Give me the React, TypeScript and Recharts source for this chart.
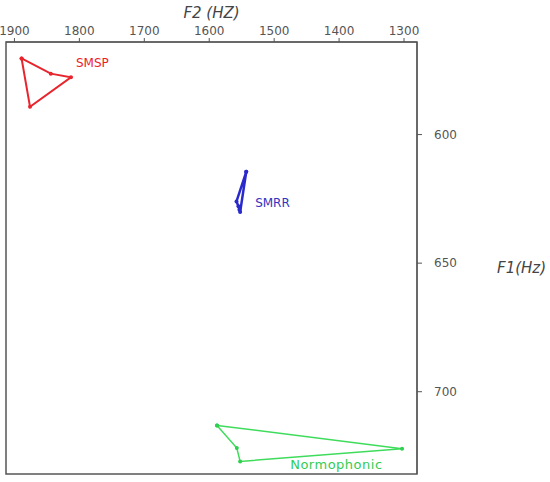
import {
	ScatterChart,
	Scatter,
	XAxis,
	YAxis,
	ReferenceArea,
	ReferenceDot,
} from "recharts"

// F2 (x) and F1 (y) in Hz, polygons closed by repeating the first point
const smsp = [
	{ f2: 1889, f1: 570.4 },
	{ f2: 1844, f1: 576.3 },
	{ f2: 1813, f1: 577.7 },
	{ f2: 1876, f1: 589.2 },
	{ f2: 1889, f1: 570.4 },
]

const smrr = [
	{ f2: 1543, f1: 614.5 },
	{ f2: 1558, f1: 626 },
	{ f2: 1555, f1: 627.9 },
	{ f2: 1553.5, f1: 629.2 },
	{ f2: 1552.4, f1: 630.1 },
	{ f2: 1543, f1: 614.5 },
]

const normophonic = [
	{ f2: 1588, f1: 713.1 },
	{ f2: 1557.5, f1: 721.9 },
	{ f2: 1552.4, f1: 727.1 },
	{ f2: 1303, f1: 722.2 },
	{ f2: 1588, f1: 713.1 },
]

const f2Ticks = [1300, 1400, 1500, 1600, 1700, 1800, 1900]
const f1Ticks = [600, 650, 700]
const f2Domain: [number, number] = [1280, 1913]
const f1Domain: [number, number] = [564, 732]

const tickStyle = { fill: "#555", fontSize: 12, fontFamily: "DejaVu Sans" }

const dot = (color: string) => (props: any) => (
	<circle cx={props.cx} cy={props.cy} r={2} fill={color} />
)

export default function App() {
	return (
		<div style={{ width: 550, height: 482 }}>
			<style>{"body{margin:0}"}</style>
			<ScatterChart
				width={550}
				height={482}
				margin={{ top: 12, right: 73, bottom: 8, left: 6 }}
			>
				<XAxis
					type="number"
					dataKey="f2"
					orientation="top"
					reversed
					domain={f2Domain}
					ticks={f2Ticks}
					allowDataOverflow
					height={30}
					tickSize={4}
					tickMargin={3}
					tick={tickStyle}
					stroke="#555"
					label={{
						value: "F2 (HZ)",
						position: "insideTop",
						offset: -5,
						fill: "#444",
						fontSize: 15,
						fontStyle: "italic",
						fontFamily: "DejaVu Sans",
					}}
				/>
				<YAxis
					type="number"
					dataKey="f1"
					orientation="right"
					reversed
					domain={f1Domain}
					ticks={f1Ticks}
					allowDataOverflow
					width={60}
					tickSize={5}
					tickMargin={12}
					tick={{ ...tickStyle, textAnchor: "start" }}
					stroke="#555"
					label={{
						value: "F1(Hz)",
						position: "right",
						offset: 20,
						dy: 10,
						fill: "#444",
						fontSize: 15,
						fontStyle: "italic",
						fontFamily: "DejaVu Sans",
					}}
				/>
				<ReferenceArea
					x1={f2Domain[0]}
					x2={f2Domain[1]}
					y1={f1Domain[0]}
					y2={f1Domain[1]}
					fill="none"
					stroke="#555"
					strokeWidth={1.5}
					fillOpacity={0}
				/>
				<Scatter
					data={smsp}
					line={{ stroke: "#e8242c", strokeWidth: 2 }}
					lineType="joint"
					shape={dot("#e8242c")}
					isAnimationActive={false}
				/>
				<Scatter
					data={smrr}
					line={{ stroke: "#2a2acc", strokeWidth: 2.5 }}
					lineType="joint"
					shape={dot("#2a2acc")}
					isAnimationActive={false}
				/>
				<Scatter
					data={normophonic}
					line={{ stroke: "#3fdc5c", strokeWidth: 1.5 }}
					lineType="joint"
					shape={dot("#2fcf4f")}
					isAnimationActive={false}
				/>
				<ReferenceDot
					x={1813}
					y={572}
					r={0}
					label={{ value: "SMSP", position: "right", fill: "#ee1c25", fontSize: 12, fontFamily: "DejaVu Sans" }}
				/>
				<ReferenceDot
					x={1537}
					y={626.5}
					r={0}
					label={{ value: "SMRR", position: "right", fill: "#3232c0", fontSize: 12, fontFamily: "DejaVu Sans" }}
				/>
				<ReferenceDot
					x={1483}
					y={728.4}
					r={0}
					label={{ value: "Normophonic", position: "right", fill: "#33cc55", fontSize: 13, letterSpacing: 0.5, fontFamily: "DejaVu Sans" }}
				/>
			</ScatterChart>
		</div>
	)
}
